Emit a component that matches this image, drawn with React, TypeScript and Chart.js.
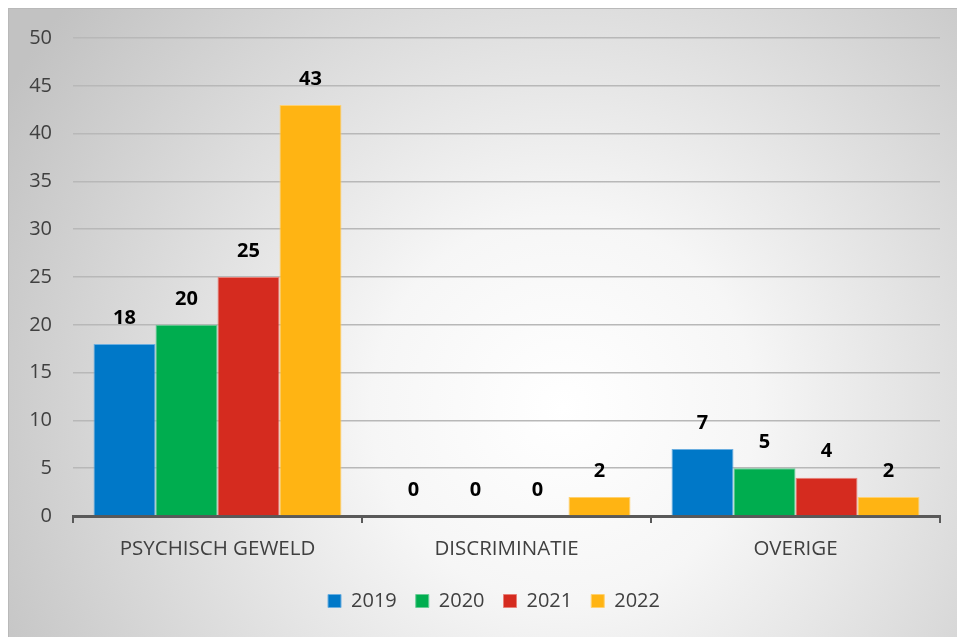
import React, { useEffect, useRef } from "react";
import { Chart, registerables } from "chart.js";

Chart.register(...registerables);

const categories = ["PSYCHISCH GEWELD", "DISCRIMINATIE", "OVERIGE"];
const seriesLabels = ["2019", "2020", "2021", "2022"];
const values2019 = [18, 0, 7];
const values2020 = [20, 0, 5];
const values2021 = [25, 0, 4];
const values2022 = [43, 2, 2];
const yMin = 0;
const yMax = 50;
const yStep = 5;
const seriesColors = ["#0078c8", "#00ad4f", "#d52b1f", "#ffb413"];
const seriesBorders = ["#6aaee0", "#66cc94", "#e98078", "#ffd170"];

const FONT = "'Open Sans', 'Noto Sans', sans-serif";

const backgroundPlugin = {
  id: "bgGradient",
  beforeDraw(chart: any) {
    const { ctx, width, height } = chart;
    ctx.save();
    const g = ctx.createRadialGradient(555, 400, 0, 555, 400, 640);
    g.addColorStop(0, "#ffffff");
    g.addColorStop(0.3, "#f6f6f6");
    g.addColorStop(1, "#c2c2c2");
    ctx.fillStyle = g;
    ctx.fillRect(0, 0, width, height);
    ctx.strokeStyle = "#b9b9b9";
    ctx.lineWidth = 2;
    ctx.beginPath();
    ctx.moveTo(0, height);
    ctx.lineTo(0, 0);
    ctx.lineTo(width, 0);
    ctx.stroke();
    ctx.restore();
  },
};

const legendShiftPlugin = {
  id: "legendShift",
  afterLayout(chart: any) {
    if (chart.legend) {
      chart.legend.left += 20;
      chart.legend.right += 20;
    }
  },
};

const dataLabelPlugin = {
  id: "dataLabels",
  afterDatasetsDraw(chart: any) {
    const { ctx } = chart;
    ctx.save();
    ctx.font = `bold 20px ${FONT}`;
    ctx.fillStyle = "#000000";
    ctx.textAlign = "center";
    ctx.textBaseline = "middle";
    chart.data.datasets.forEach((ds: any, i: number) => {
      const meta = chart.getDatasetMeta(i);
      meta.data.forEach((bar: any, j: number) => {
        ctx.fillText(String(ds.data[j]), bar.x, bar.y - 26);
      });
    });
    ctx.restore();
  },
};

export default function App() {
  const ref = useRef<HTMLCanvasElement | null>(null);

  useEffect(() => {
    if (!ref.current) return;
    const allSeries = [values2019, values2020, values2021, values2022];
    const chart = new Chart(ref.current, {
      type: "bar",
      data: {
        labels: categories,
        datasets: allSeries.map((vals, i) => ({
          label: seriesLabels[i],
          data: vals,
          backgroundColor: seriesColors[i],
          borderColor: seriesBorders[i],
          borderWidth: 1,
          barPercentage: 1,
          categoryPercentage: 0.858,
        })),
      },
      options: {
        animation: false,
        responsive: true,
        maintainAspectRatio: false,
        layout: { padding: { top: 30, right: 17, left: 0, bottom: 16 } },
        plugins: {
          legend: {
            position: "bottom",
            labels: {
              boxWidth: 13,
              boxHeight: 13,
              padding: 19,
              color: "#404040",
              font: { family: FONT, size: 20 },
            },
          },
          tooltip: { enabled: false },
        },
        scales: {
          x: {
            offset: true,
            grid: {
              offset: true,
              drawOnChartArea: false,
              drawTicks: true,
              tickLength: 7,
              color: "#595959",
              lineWidth: 2,
            },
            border: { display: true, color: "#595959", width: 3 },
            ticks: {
              color: "#404040",
              padding: 14,
              font: { family: FONT, size: 20.5 },
            },
            afterFit(scale: any) {
              scale.height = 56;
            },
          },
          y: {
            min: yMin,
            max: yMax,
            ticks: {
              stepSize: yStep,
              color: "#404040",
              padding: 2,
              font: { family: FONT, size: 20 },
            },
            grid: {
              color: "#b8b8b8",
              lineWidth: 1.5,
              drawTicks: true,
              tickLength: 19,
              tickColor: "rgba(0,0,0,0)",
            },
            border: { display: false },
            afterFit(scale: any) {
              scale.width = 65;
            },
          },
        },
      },
      plugins: [backgroundPlugin, legendShiftPlugin, dataLabelPlugin],
    });
    return () => chart.destroy();
  }, []);

  return (
    <div style={{ position: "absolute", left: 8, top: 8, width: 949, height: 629 }}>
      <canvas ref={ref} />
    </div>
  );
}
